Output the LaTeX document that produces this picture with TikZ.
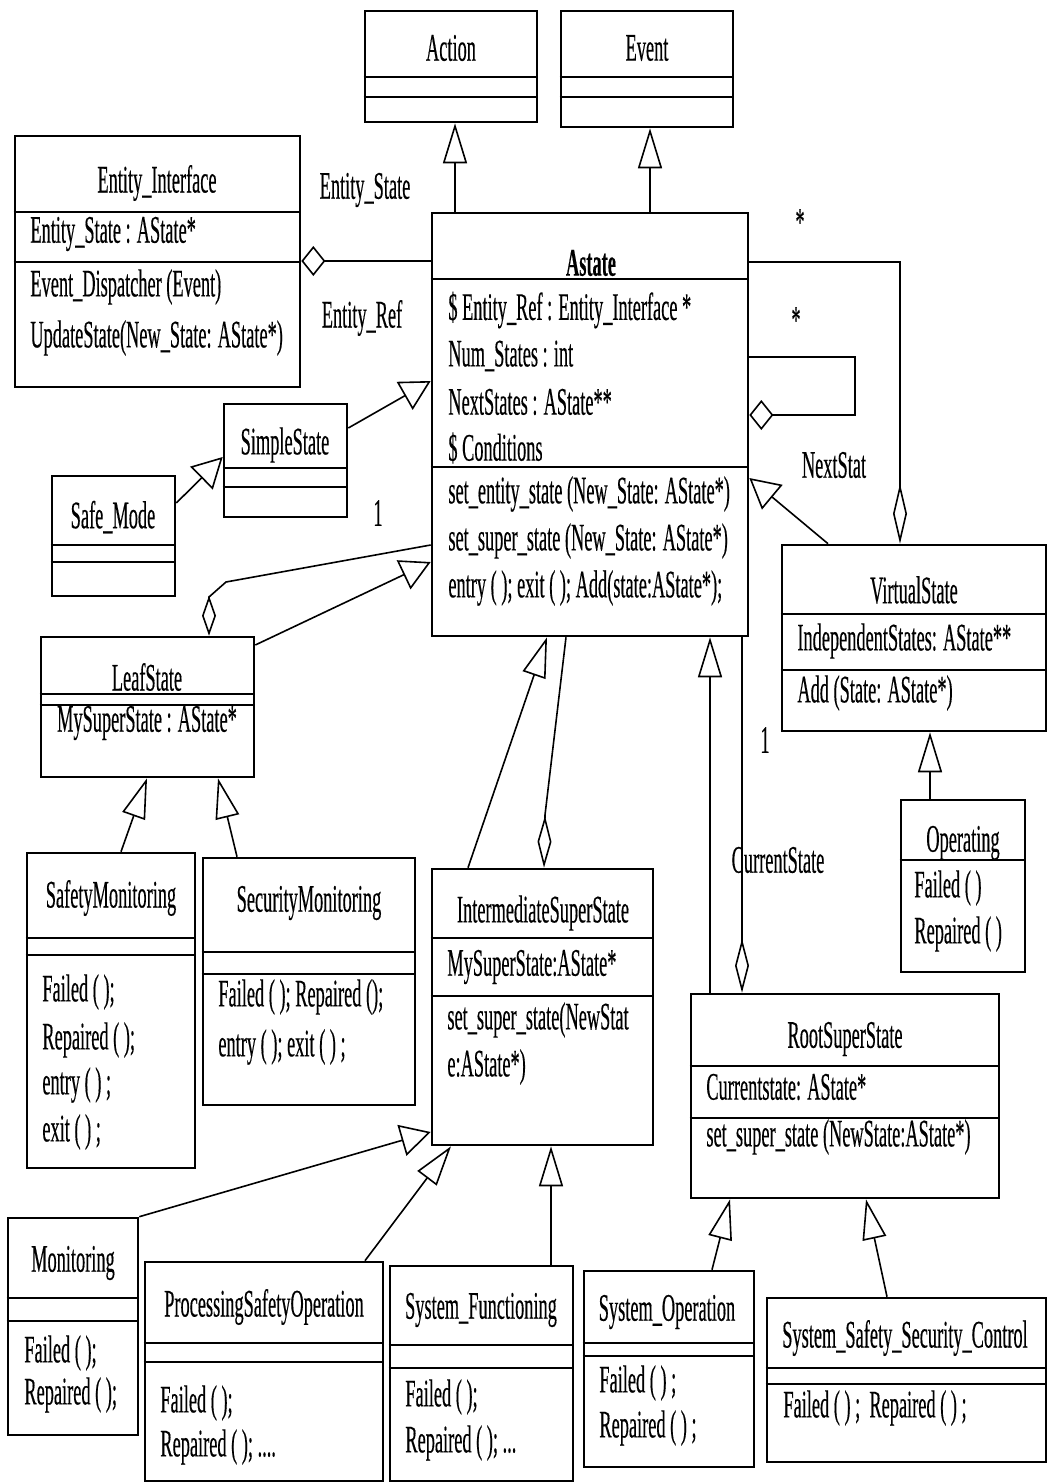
\documentclass[tikz,border=0pt]{standalone}
\usepackage{fontspec}
\setmainfont{Liberation Serif}[FakeStretch=0.47, FakeBold=0.3]
\usetikzlibrary{arrows.meta,fit}

\newcommand\umlfont{\fontsize{19.5}{21}\selectfont}

\tikzset{
	classbox/.style={draw, line width=1.3pt, inner sep=0pt, fit={#1}},
	divider/.style={line width=1.3pt},
	classname/.style={font=\umlfont, inner sep=0pt},
	member/.style={font=\umlfont, inner sep=0pt, anchor=west},
	rolelabel/.style={font=\umlfont, inner sep=0pt},
	link/.style={line width=0.8pt},
	genv/.style={link, -{Triangle[open, length=20pt, width=12pt]}},
	genh/.style={link, -{Triangle[open, length=15pt, width=16pt]}},
	aggv/.style={link, {Diamond[open, length=#1, width=7pt]}-},
	aggh/.style={link, {Diamond[open, length=12pt, width=15pt]}-}
}

\begin{document}
\begin{tikzpicture}[x=0.5pt, y=-0.5pt]

	\path[fill=white, use as bounding box] (0,0) rectangle (1048,1483);

	% class boxes
	\node[classbox={(365,11) (537,122)}] (action) {};
	\node[classbox={(561,11) (733,127)}] (event) {};
	\node[classbox={(15,136) (300,387)}] (entity) {};
	\node[classbox={(432,213) (748,636)}] (astate) {};
	\node[classbox={(224,404) (347,517)}] (simple) {};
	\node[classbox={(52,476) (175,596)}] (safe) {};
	\node[classbox={(41,637) (254,777)}] (leaf) {};
	\node[classbox={(782,545) (1046,731)}] (virtual) {};
	\node[classbox={(901,800) (1025,972)}] (operating) {};
	\node[classbox={(27,853) (195,1168)}] (safety) {};
	\node[classbox={(203,858) (415,1105)}] (security) {};
	\node[classbox={(432,869) (653,1145)}] (inter) {};
	\node[classbox={(691,994) (999,1198)}] (root) {};
	\node[classbox={(8,1218) (138,1435)}] (monitoring) {};
	\node[classbox={(145,1262) (383,1481)}] (processing) {};
	\node[classbox={(390,1266) (573,1481)}] (sysfunc) {};
	\node[classbox={(584,1271) (754,1467)}] (sysop) {};
	\node[classbox={(767,1298) (1046,1462)}] (control) {};

	% compartments
	\foreach \cls/\y in {action/77, action/97, event/77, event/97,
			entity/212, entity/262, astate/279, astate/467,
			simple/468, simple/487, safe/545, safe/562,
			leaf/694, leaf/705, virtual/614, virtual/670,
			operating/860, safety/938, safety/955,
			security/952, security/974, inter/938, inter/996,
			root/1066, root/1118, monitoring/1298, monitoring/1321,
			processing/1343, processing/1362, sysfunc/1345, sysfunc/1368,
			sysop/1343, sysop/1356, control/1368, control/1384}
		\draw[divider] (\cls.west |- 0,\y) -- (\cls.east |- 0,\y);

	% class names
	\node[classname] (action-n) at (451,48) {Action};
	\node[classname] (event-n) at (647,48) {Event};
	\node[classname] (entity-n) at (157,183) {Entity\_Interface};
	\node[classname] (astate-n) at (591,263) {\textbf{Astate}};
	\node[classname] (simple-n) at (285,445) {SimpleState};
	\node[classname] (safe-n) at (113,517) {Safe\_Mode};
	\node[classname] (leaf-n) at (147,677) {LeafState};
	\node[classname] (virtual-n) at (914,590) {VirtualState};
	\node[classname] (operating-n) at (963,843) {Operating};
	\node[classname] (safety-n) at (111,898) {SafetyMonitoring};
	\node[classname] (security-n) at (309,903) {SecurityMonitoring};
	\node[classname] (inter-n) at (543,913) {IntermediateSuperState};
	\node[classname] (root-n) at (845,1039) {RootSuperState};
	\node[classname] (monitoring-n) at (73,1263) {Monitoring};
	\node[classname] (processing-n) at (264,1307) {ProcessingSafetyOperation};
	\node[classname] (sysfunc-n) at (481,1310) {System\_Functioning};
	\node[classname] (sysop-n) at (667,1312) {System\_Operation};
	\node[classname] (control-n) at (905,1338) {System\_Safety\_Security\_Control};

	% attributes and operations
	\node[member] (entity-a) at (30,234) {Entity\_State : AState*};
	\node[member] (entity-o1) at (30,287) {Event\_Dispatcher (Event)};
	\node[member] (entity-o2) at (30,338) {UpdateState(New\_State: AState*)};

	\node[member] (astate-a1) at (448,310) {\$ Entity\_Ref : Entity\_Interface *};
	\node[member] (astate-a2) at (448,356) {Num\_States : int};
	\node[member] (astate-a3) at (448,402) {NextStates : AState**};
	\node[member] (astate-a4) at (448,448) {\$ Conditions};
	\node[member] (astate-o1) at (448,494) {set\_entity\_state (New\_State: AState*)};
	\node[member] (astate-o2) at (448,541) {set\_super\_state (New\_State: AState*)};
	\node[member] (astate-o3) at (448,588) {entry ( ); exit ( ); Add(state:AState*);};

	\node[classname] (leaf-a) at (147,723) {MySuperState : AState*};

	\node[member] (virtual-a) at (797,641) {IndependentStates: AState**};
	\node[member] (virtual-o) at (797,693) {Add (State: AState*)};

	\node[member] (operating-o1) at (914,888) {Failed ( )};
	\node[member] (operating-o2) at (914,934) {Repaired ( )};

	\node[member] (safety-o1) at (42,992) {Failed ( );};
	\node[member] (safety-o2) at (42,1040) {Repaired ( );};
	\node[member] (safety-o3) at (42,1085) {entry ( ) ;};
	\node[member] (safety-o4) at (42,1132) {exit ( ) ;};

	\node[member] (security-o1) at (218,997) {Failed ( ); Repaired ();};
	\node[member] (security-o2) at (218,1047) {entry ( ); exit ( ) ;};

	\node[member] (inter-a) at (447,967) {MySuperState:AState*};
	\node[member] (inter-o1) at (447,1020) {set\_super\_state(NewStat};
	\node[member] (inter-o2) at (447,1067) {e:AState*)};

	\node[member] (root-a) at (706,1087) {Currentstate: AState*};
	\node[member] (root-o) at (706,1137) {set\_super\_state (NewState:AState*)};

	\node[member] (monitoring-o1) at (24,1353) {Failed ( );};
	\node[member] (monitoring-o2) at (24,1395) {Repaired ( );};

	\node[member] (processing-o1) at (160,1403) {Failed ( );};
	\node[member] (processing-o2) at (160,1447) {Repaired ( ); ....};

	\node[member] (sysfunc-o1) at (405,1397) {Failed ( );};
	\node[member] (sysfunc-o2) at (405,1443) {Repaired ( ); ...};

	\node[member] (sysop-o1) at (599,1383) {Failed ( ) ;};
	\node[member] (sysop-o2) at (599,1428) {Repaired ( ) ;};

	\node[member] (control-o) at (783,1408) {Failed ( ) ;\ \ Repaired ( ) ;};

	% role names and multiplicities
	\node[rolelabel] (l-entstate) at (365,190) {Entity\_State};
	\node[rolelabel] (l-entref) at (362,318) {Entity\_Ref};
	\node[rolelabel] (l-one) at (378,513) {1};
	\node[rolelabel] (l-star1) at (800,222) {*};
	\node[rolelabel] (l-star2) at (796,320) {*};
	\node[rolelabel] (l-next) at (834,465) {NextStat};
	\node[rolelabel] (l-two) at (765,740) {1};
	\node[rolelabel] (l-current) at (778,860) {CurrentState};

	% relations
	\draw[genv] (astate.north -| 455,0) -- (action.south -| 455,0);
	\draw[genv] (astate.north -| 650,0) -- (event.south -| 650,0);
	\draw[aggh] (entity.east |- 0,261) -- (astate.west |- 0,261);
	\draw[genh] (simple.east |- 0,428) -- (astate.west |- 0,381);
	\draw[genh] (safe.east |- 0,503) -- (simple.west |- 0,457);
	\draw[aggv=20pt] (leaf.north -| 209,0) -- (209,597) -- (226,582) -- (astate.west |- 0,545);
	\draw[genh] (leaf.east |- 0,645) -- (astate.west |- 0,562);
	\draw[genv] (safety.north -| 121,0) -- (leaf.south -| 147,0);
	\draw[genv] (security.north -| 237,0) -- (leaf.south -| 218,0);
	\draw[genv] (inter.north -| 468,0) -- (astate.south -| 547,0);
	\draw[aggv=26pt] (inter.north -| 544,0) -- (545,815) -- (astate.south -| 566,0);
	\draw[genv] (root.north -| 710,0) -- (astate.south -| 710,0);
	\draw[aggv=27pt] (root.north -| 742,0) -- (astate.south -| 742,0);
	\draw[genh] (virtual.north -| 828,0) -- (astate.east |- 0,478);
	\draw[aggv=30pt] (virtual.north -| 900,0) -- (900,262) -- (astate.east |- 0,262);
	\draw[aggh] (astate.east |- 0,415) -- (855,415) -- (855,357) -- (astate.east |- 0,357);
	\draw[genv] (operating.north -| 930,0) -- (virtual.south -| 930,0);
	\draw[genh] (monitoring.north east) -- (inter.west |- 0,1132);
	\draw[genv] (processing.north -| 365,0) -- (inter.south -| 451,0);
	\draw[genv] (sysfunc.north -| 551,0) -- (inter.south -| 551,0);
	\draw[genv] (sysop.north -| 712,0) -- (root.south -| 730,0);
	\draw[genv] (control.north -| 887,0) -- (root.south -| 866,0);

\end{tikzpicture}
\end{document}
